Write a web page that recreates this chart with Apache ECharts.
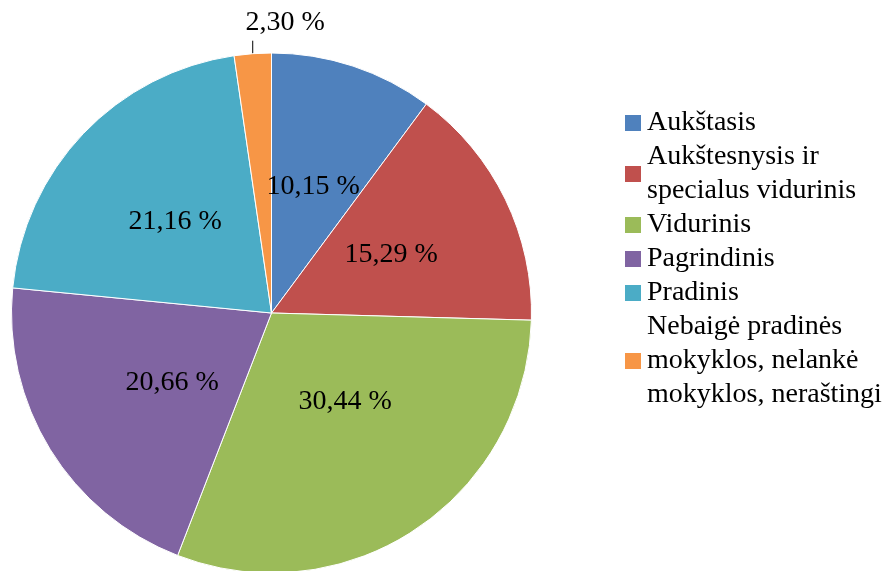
<!DOCTYPE html>
<html>
<head>
<meta charset="utf-8">
<title>Išsilavinimas</title>
<script src="https://cdn.jsdelivr.net/npm/echarts@6/dist/echarts.min.js"></script>
<style>
  html, body { margin: 0; padding: 0; background: #fff; }
  #main { width: 895px; height: 571px; }
</style>
</head>
<body>
<div id="main"></div>
<script>
// kategorijos ir reikšmės (%)
var categories = [
  'Aukštasis',
  'Aukštesnysis ir\nspecialus vidurinis',
  'Vidurinis',
  'Pagrindinis',
  'Pradinis',
  'Nebaigė pradinės\nmokyklos, nelankė\nmokyklos, neraštingi'
];
var values = [10.15, 15.29, 30.44, 20.66, 21.16, 2.30];
var colors = ['#4F81BD', '#C0504D', '#9BBB59', '#8064A2', '#4BACC6', '#F79646'];

var font = 'Liberation Serif';

var pieData = categories.map(function (name, i) {
  var d = { name: name, value: values[i], itemStyle: { color: colors[i] } };
  if (i === 5) {
    d.label = { position: 'outside' };
    d.labelLine = { show: true, length: 13, length2: 0, lineStyle: { color: '#000', width: 1 } };
  }
  return d;
});

var myChart = echarts.init(document.getElementById('main'));
var option = {
  animation: false,
  legend: {
    orient: 'vertical',
    left: 623,
    top: 106,
    padding: 0,
    itemWidth: 18,
    itemHeight: 18,
    itemGap: 0,
    icon: 'rect',
    selectedMode: false,
    textStyle: { fontFamily: font, fontSize: 28, color: '#000', lineHeight: 34 },
    data: categories
  },
  series: [{
    type: 'pie',
    center: [271.5, 313],
    radius: 260,
    startAngle: 90,
    clockwise: true,
    avoidLabelOverlap: false,
    itemStyle: { borderColor: '#fff', borderWidth: 1 },
    label: {
      show: true,
      position: 'inside',
      fontFamily: font,
      fontSize: 28,
      color: '#000',
      formatter: function (p) { return p.value.toFixed(2).replace('.', ',') + ' %'; }
    },
    labelLine: { show: false },
    labelLayout: function (p) {
      if (p.dataIndex === 5) {
        var pts = p.labelLinePoints;
        var x0 = pts[0][0];
        return {
          dx: 78, dy: -18,
          labelLinePoints: [pts[0], [x0, pts[1][1]], [x0, pts[1][1]]]
        };
      }
      if (p.dataIndex === 2) return { dy: -22 };
      if (p.dataIndex === 3) return { dx: 14 };
    },
    emphasis: { disabled: true },
    data: pieData
  }]
};
myChart.setOption(option);
</script>
</body>
</html>
